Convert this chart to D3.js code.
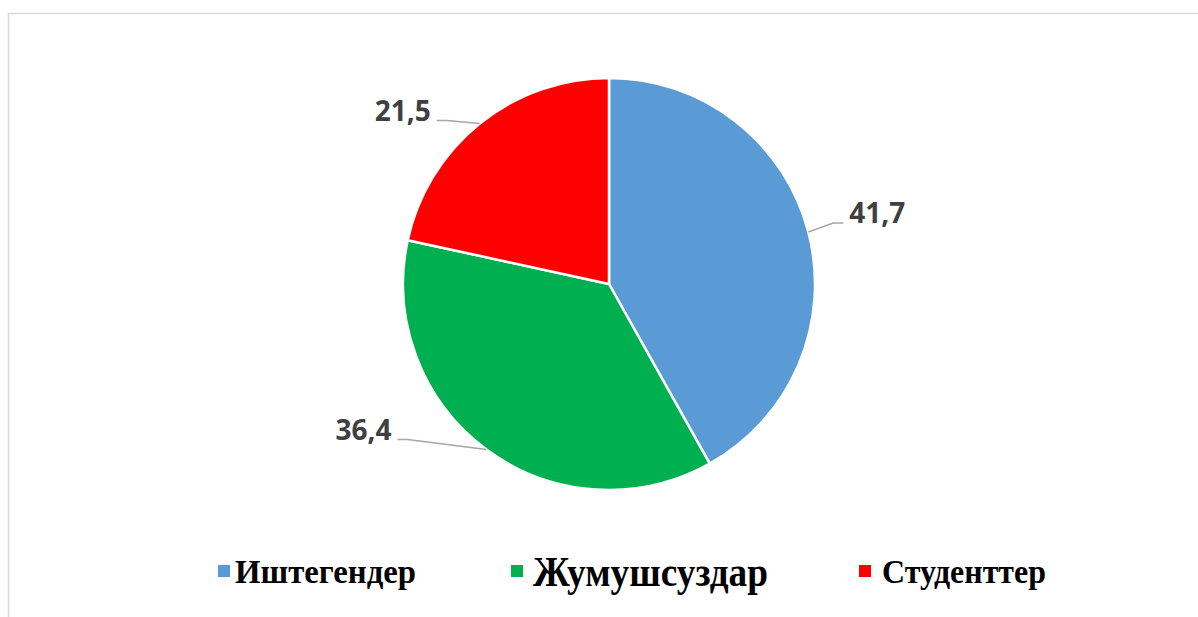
<!DOCTYPE html>
<html>
<head>
<meta charset="utf-8">
<script src="https://cdn.jsdelivr.net/npm/d3@7"></script>
<style>
  html, body { margin: 0; padding: 0; background: #ffffff; }
  svg { display: block; }
</style>
</head>
<body>
<svg id="chart" width="1198" height="617"></svg>
<script>
// ---- data ----
const categories = ["Иштегендер", "Жумушсуздар", "Студенттер"];
const values = [41.7, 36.4, 21.5];
const valueLabels = ["41,7", "36,4", "21,5"];
const colors = ["#5b9bd5", "#00b050", "#ff0000"];

// ---- layout ----
const W = 1198, H = 617;
const cx = 609, cy = 284, R = 206;
// label offsets from the slice's outer mid-point (dx, dy), and side
const labelOffsets = [[41, -9, 1], [-95, -10, -1], [-49, -3, -1]];
const legendFontSizes = [34, 42, 34];
const legendTextLengths = [181, 235, 164];
const legendMarkerX = [218, 511, 859];
const legendTextX = [235, 533, 882];
const legendBaselines = [583, 586, 583];

const svg = d3.select("#chart");

// chart area border
svg.append("rect")
  .attr("x", 8.5).attr("y", 13.5)
  .attr("width", W).attr("height", H)
  .attr("fill", "none").attr("stroke", "#d9d9d9").attr("stroke-width", 1.5);

const pie = d3.pie().sort(null).value(d => d)(values);
const arc = d3.arc().innerRadius(0).outerRadius(R);

const g = svg.append("g").attr("transform", `translate(${cx},${cy})`);

g.selectAll("path.slice")
  .data(pie)
  .join("path")
  .attr("class", "slice")
  .attr("d", arc)
  .attr("fill", (d, i) => colors[i])
  .attr("stroke", "#ffffff")
  .attr("stroke-width", 2.5)
  .attr("stroke-linejoin", "round");

// leader lines and labels
pie.forEach((d, i) => {
  const mid = (d.startAngle + d.endAngle) / 2;
  const ex = R * Math.sin(mid), ey = -R * Math.cos(mid);
  const [dx, dy, side] = labelOffsets[i];
  const lx = ex + dx, ly = ey + dy;
  const pts = [[ex, ey], [lx - side * 16, ly], [lx - side * 6, ly]];
  g.append("path")
    .attr("d", d3.line()(pts))
    .attr("fill", "none")
    .attr("stroke", "#a6a6a6")
    .attr("stroke-width", 1.5);
  g.append("text")
    .attr("x", lx).attr("y", ly)
    .attr("text-anchor", side > 0 ? "start" : "end")
    .attr("font-family", "'Open Sans', 'DejaVu Sans', sans-serif")
    .attr("font-weight", "bold")
    .attr("font-size", 28)
    .attr("fill", "#404040")
    .text(valueLabels[i]);
});

// legend
const leg = svg.append("g");
categories.forEach((c, i) => {
  leg.append("rect")
    .attr("x", legendMarkerX[i]).attr("y", 565)
    .attr("width", 12).attr("height", 12)
    .attr("fill", colors[i]);
  leg.append("text")
    .attr("x", legendTextX[i]).attr("y", legendBaselines[i])
    .attr("font-family", "'Liberation Serif', 'Times New Roman', serif")
    .attr("font-weight", "bold")
    .attr("font-size", legendFontSizes[i])
    .attr("textLength", legendTextLengths[i])
    .attr("lengthAdjust", "spacingAndGlyphs")
    .attr("fill", "#000000")
    .text(c);
});
</script>
</body>
</html>
